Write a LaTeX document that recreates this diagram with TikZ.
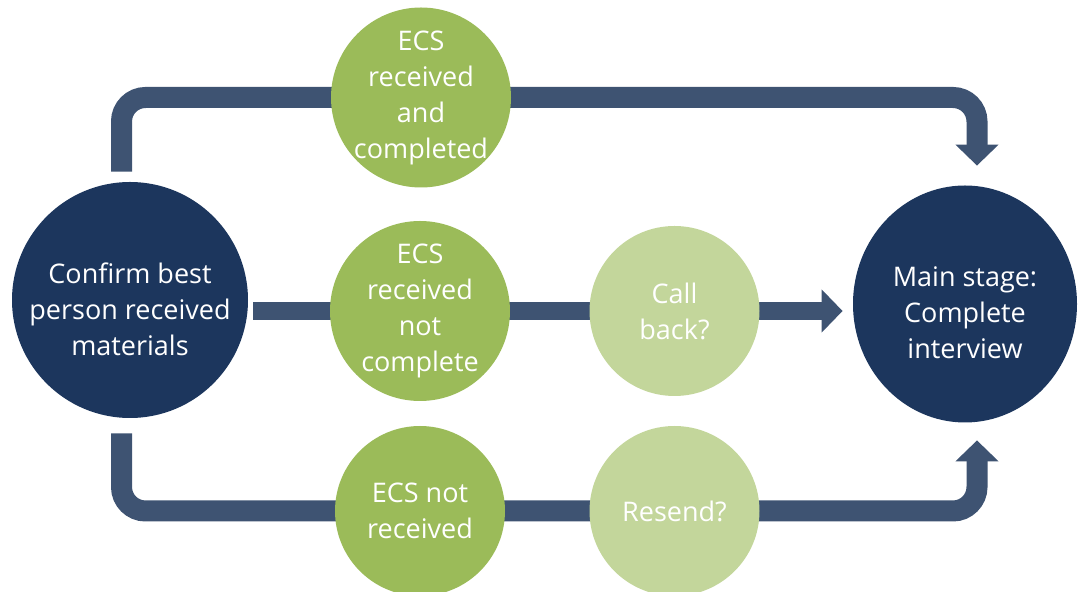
\documentclass[tikz,border=0pt]{standalone}
\usepackage{fontspec}
\setmainfont{Open Sans}
\usepackage{tikz}
\usetikzlibrary{calc,arrows.meta,shapes.geometric,backgrounds}
\definecolor{hubblue}{HTML}{1C365D}
\definecolor{bandblue}{HTML}{3E5372}
\definecolor{ecsgreen}{HTML}{9BBB59}
\definecolor{askgreen}{HTML}{C3D69B}
\tikzset{
  hub/.style={circle,fill=hubblue,minimum size=118pt,inner sep=0pt},
  outcome/.style={circle,fill=ecsgreen,minimum size=#1,inner sep=0pt},
  followup/.style={circle,fill=askgreen,minimum size=85pt,inner sep=0pt},
  words/.style={text=white,align=center,inner sep=0pt,font=\fontsize{13.5}{18}\selectfont},
  band/.style={draw=bandblue,line width=10.5pt,rounded corners=12pt,
    -{Triangle[length=10.5pt,width=21pt]}}
}
\begin{document}
\begin{tikzpicture}[x=0.5pt,y=-0.5pt]
\useasboundingbox (0,0) rectangle (1078,592);
\node[hub] (confirm) at (130,300) {};
\node[words] (confirmtext) at (130,309) {Confirm best\\person received\\materials};
\node[hub,ellipse,minimum width=112pt,minimum height=118.5pt] (done) at (965,304) {};
\node[words] (donetext) at (965,313) {Main stage:\\Complete\\interview};
\node[outcome=90pt] (ecsdone) at (421,97.5) {};
\node[words] (ecsdonetext) at (ecsdone) {ECS\\received\\and\\completed};
\node[outcome=90pt] (ecspart) at (420,311) {};
\node[words] (ecsparttext) at (ecspart) {ECS\\received\\not\\complete};
\node[outcome=85pt] (ecsnone) at (420,511) {};
\node[words] (ecsnonetext) at (ecsnone) {ECS not\\received};
\node[followup] (callback) at (674.5,311) {};
\node[words] (callbacktext) at (callback) {Call\\back?};
\node[followup] (resend) at (674.5,511) {};
\node[words] (resendtext) at (resend) {Resend?};
\begin{scope}[on background layer]
\draw[band] ($(confirm.north)+(-8.5,-10)$) |- (ecsdone.center) -| ($(done.north)+(12,-19.5)$);
\draw[band,line width=9pt] ($(confirm.east |- ecspart)+(5,0)$) -- ($(done.west |- ecspart)+(-10,0)$);
\draw[band] ($(confirm.south)+(-8.5,15)$) |- (ecsnone.center) -| ($(done.south)+(12,17.5)$);
\end{scope}
\end{tikzpicture}
\end{document}
